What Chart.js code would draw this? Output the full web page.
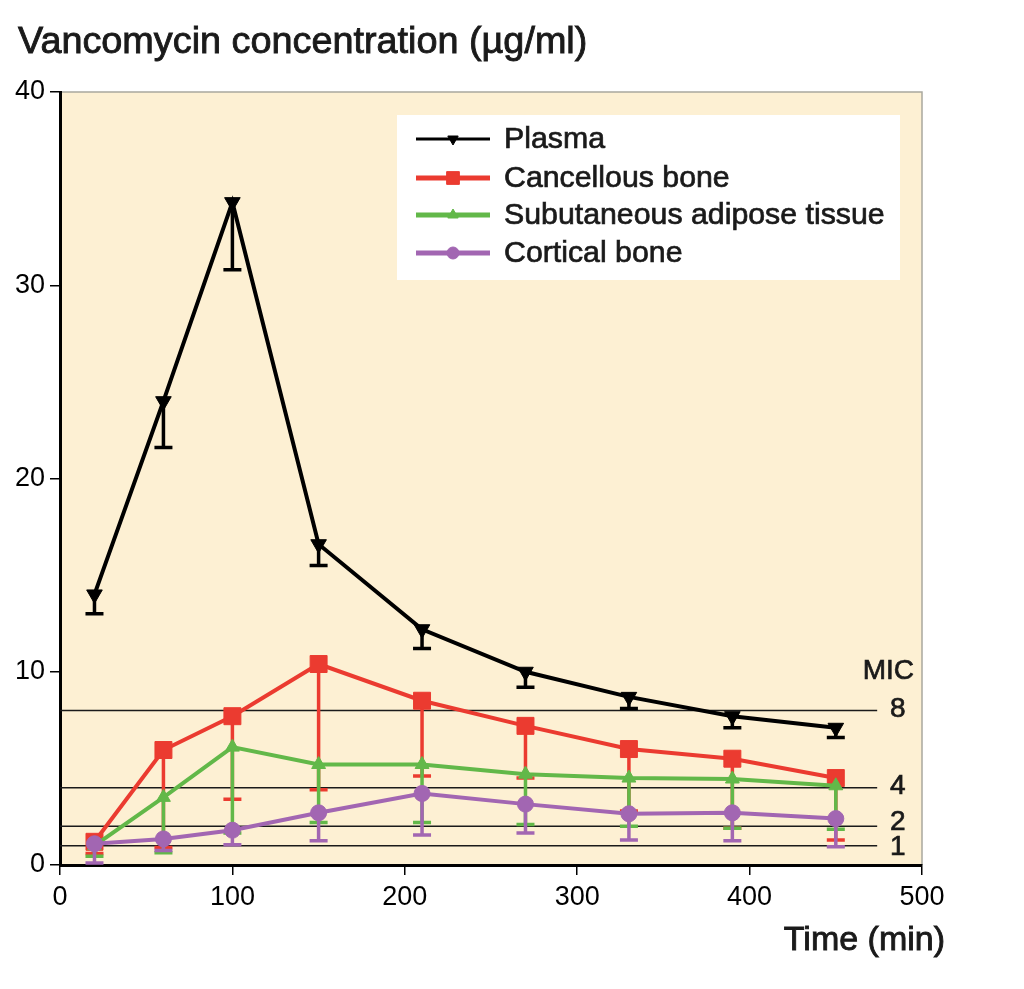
<!DOCTYPE html>
<html>
<head>
<meta charset="utf-8">
<script src="https://cdn.jsdelivr.net/npm/chart.js@4"></script>
<style>
  html, body { margin: 0; padding: 0; background: #fff; }
</style>
</head>
<body>
<canvas id="myChart" width="1024" height="989"></canvas>
<script>
const times = [20, 60, 100, 150, 210, 270, 330, 390, 450];
const plasma = [14.0, 24.0, 34.3, 16.6, 12.2, 10.0, 8.7, 7.7, 7.1];
const plasmaLow = [13.0, 21.6, 30.8, 15.5, 11.2, 9.2, 8.1, 7.1, 6.6];
const cancellous = [1.2, 5.95, 7.7, 10.4, 8.5, 7.2, 6.0, 5.5, 4.5];
const cancellousLow = [0.6, 0.9, 3.4, 3.9, 4.6, 4.5, 2.8, 1.9, 1.3];
const adipose = [1.0, 3.5, 6.1, 5.2, 5.2, 4.7, 4.5, 4.45, 4.1];
const adiposeLow = [0.45, 0.64, 1.65, 2.2, 2.2, 2.1, 2.0, 1.9, 1.85];
const cortical = [1.1, 1.35, 1.8, 2.7, 3.7, 3.15, 2.65, 2.7, 2.4];
const corticalLow = [0.1, 0.75, 1.05, 1.25, 1.55, 1.65, 1.3, 1.25, 0.95];
const micLevels = [1, 2, 4, 8];
const xTicks = [0, 100, 200, 300, 400, 500];
const yTicks = [0, 10, 20, 30, 40];

const family = '"Liberation Sans", Arial, sans-serif';
const textColor = '#1a1a1a';

function points(vals) {
    return vals.map((v, i) => ({ x: times[i], y: v }));
}

function series(label, vals, low, color, style, radius, rotation, order) {
    return {
        label: label,
        data: points(vals),
        errLow: low,
        borderColor: color,
        backgroundColor: color,
        borderWidth: 4,
        pointStyle: style,
        pointRadius: radius,
        pointRotation: rotation,
        pointBorderWidth: 1,
        tension: 0,
        order: order,
    };
}

const datasets = [
    series('Plasma', plasma, plasmaLow, '#000000', 'triangle', 9, 180, 3),
    series('Cancellous bone', cancellous, cancellousLow, '#eb3b30', 'rect', 12, 0, 2),
    series('Subutaneous adipose tissue', adipose, adiposeLow, '#62b849', 'triangle', 8, 0, 1),
    series('Cortical bone', cortical, corticalLow, '#a266b2', 'circle', 8, 0, 0),
];

// text with a thin outline, to get the medium weight of the original
function heavyText(ctx, txt, x, y) {
    ctx.fillText(txt, x, y);
    ctx.strokeText(txt, x, y);
}

// background, MIC lines, error bars, legend and titles
const decor = {
    id: 'decor',
    beforeDraw(chart) {
        const { ctx, chartArea: a } = chart;
        ctx.save();
        ctx.fillStyle = '#fdf0d3';
        ctx.fillRect(a.left, a.top, a.right - a.left, a.bottom - a.top);
        ctx.strokeStyle = '#a9a89f';
        ctx.lineWidth = 1.5;
        ctx.beginPath();
        ctx.moveTo(a.left, a.top);
        ctx.lineTo(a.right, a.top);
        ctx.lineTo(a.right, a.bottom);
        ctx.stroke();
        ctx.restore();
    },
    beforeDatasetsDraw(chart) {
        const { ctx, chartArea: a, scales: { x, y } } = chart;
        ctx.save();
        ctx.strokeStyle = '#1a1a1a';
        ctx.lineWidth = 1.5;
        const xEnd = x.getPixelForValue(474);
        micLevels.forEach(v => {
            const py = y.getPixelForValue(v);
            ctx.beginPath();
            ctx.moveTo(a.left, py);
            ctx.lineTo(xEnd, py);
            ctx.stroke();
        });
        ctx.fillStyle = textColor;
        ctx.strokeStyle = textColor;
        ctx.lineWidth = 0.7;
        ctx.font = '28px ' + family;
        ctx.textAlign = 'center';
        ctx.textBaseline = 'middle';
        const lx = x.getPixelForValue(486);
        const nudge = { 1: 2, 2: -4, 4: -1, 8: -1 };
        micLevels.forEach(v => {
            heavyText(ctx, String(v), lx, y.getPixelForValue(v) + nudge[v]);
        });
        heavyText(ctx, 'MIC', x.getPixelForValue(480.5), y.getPixelForValue(10));
        ctx.restore();
    },
    beforeDatasetDraw(chart, args) {
        const ds = chart.data.datasets[args.index];
        if (!ds.errLow) return;
        const { ctx, scales: { x, y } } = chart;
        ctx.save();
        ctx.strokeStyle = ds.borderColor;
        ctx.lineWidth = 3.5;
        ds.data.forEach((p, i) => {
            const px = x.getPixelForValue(p.x);
            const top = y.getPixelForValue(p.y);
            const bot = y.getPixelForValue(ds.errLow[i]);
            ctx.beginPath();
            ctx.moveTo(px, top);
            ctx.lineTo(px, bot);
            ctx.moveTo(px - 9, bot);
            ctx.lineTo(px + 9, bot);
            ctx.stroke();
        });
        ctx.restore();
    },
    afterDraw(chart) {
        const { ctx } = chart;
        ctx.save();
        // titles
        ctx.fillStyle = textColor;
        ctx.strokeStyle = textColor;
        ctx.lineWidth = 0.9;
        ctx.font = '37.8px ' + family;
        ctx.textAlign = 'left';
        ctx.textBaseline = 'alphabetic';
        heavyText(ctx, 'Vancomycin concentration (\u00b5g/ml)', 18, 53);
        ctx.font = '34px ' + family;
        ctx.textAlign = 'right';
        heavyText(ctx, 'Time (min)', 945, 950);

        // legend
        ctx.fillStyle = '#ffffff';
        ctx.fillRect(397, 115, 503, 165);
        const rows = [139, 178, 215, 253];
        const marks = [
            { style: 'triangle', r: 6, rot: 180 },
            { style: 'rect', r: 9, rot: 0 },
            { style: 'triangle', r: 6, rot: 0 },
            { style: 'circle', r: 6, rot: 0 },
        ];
        datasets.forEach((ds, i) => {
            const ry = rows[i];
            ctx.strokeStyle = ds.borderColor;
            ctx.lineWidth = i === 0 ? 3 : 5;
            ctx.beginPath();
            ctx.moveTo(416, ry);
            ctx.lineTo(490, ry);
            ctx.stroke();
            ctx.fillStyle = ds.borderColor;
            ctx.lineWidth = 1;
            Chart.helpers.drawPoint(ctx, {
                pointStyle: marks[i].style,
                radius: marks[i].r,
                rotation: marks[i].rot,
                borderWidth: 1,
            }, 453, ry);
            ctx.fillStyle = textColor;
            ctx.strokeStyle = textColor;
            ctx.lineWidth = 0.7;
            ctx.font = '30.3px ' + family;
            ctx.textAlign = 'left';
            ctx.textBaseline = 'middle';
            heavyText(ctx, ds.label, 504, ry + 1);
        });
        ctx.restore();
    },
};

const config = {
    type: 'line',
    data: { datasets: datasets },
    options: {
        responsive: false,
        animation: false,
        layout: { padding: { top: 92, right: 102, left: 0, bottom: 0 } },
        plugins: {
            legend: { display: false },
            tooltip: { enabled: false },
        },
        scales: {
            x: {
                type: 'linear',
                min: 0,
                max: 500,
                afterBuildTicks(s) { s.ticks = xTicks.map(v => ({ value: v })); },
                ticks: { color: '#000', font: { size: 27, family: family }, padding: 6, maxRotation: 0 },
                grid: { drawOnChartArea: false, tickLength: 10, color: '#000', lineWidth: 1.5 },
                border: { color: '#000', width: 3 },
                afterFit(s) { s.height = 124; },
            },
            y: {
                min: 0,
                max: 40,
                afterBuildTicks(s) { s.ticks = yTicks.map(v => ({ value: v })); },
                ticks: { color: '#000', font: { size: 27, family: family }, padding: 5 },
                grid: { drawOnChartArea: false, tickLength: 10, color: '#000', lineWidth: 1.5 },
                border: { color: '#000', width: 3 },
                afterFit(s) { s.width = 60; },
            },
        },
    },
    plugins: [decor],
};

const myChart = new Chart(document.getElementById('myChart'), config);
</script>
</body>
</html>
